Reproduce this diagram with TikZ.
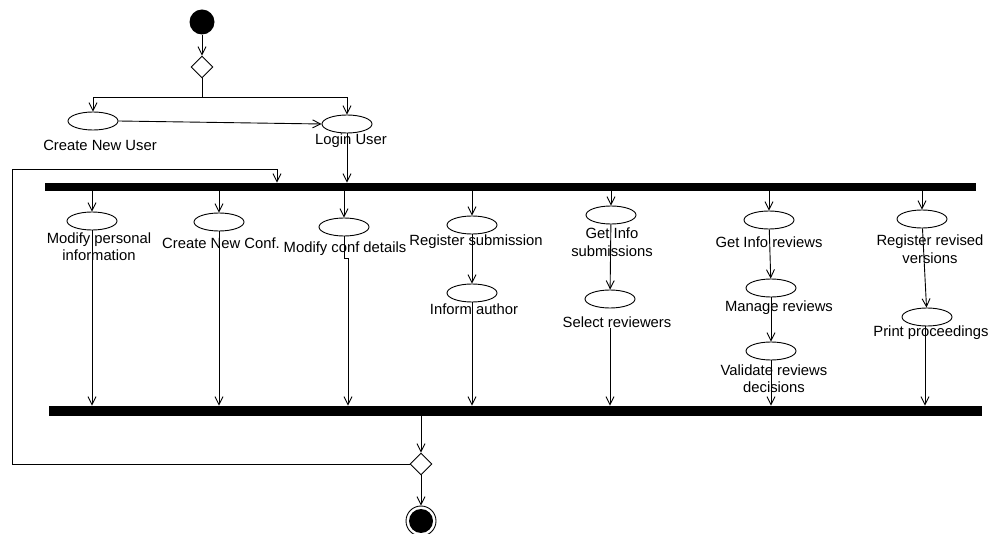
\documentclass[tikz,border=0pt]{standalone}
\usepackage{fontspec}
\setmainfont{Liberation Sans}
\usetikzlibrary{arrows.meta,shapes.geometric,positioning,calc}

\begin{document}
\begin{tikzpicture}
  [x=1pt,y=-1pt,line width=0.9pt,
   every node/.style={font=\fontsize{14.8}{17.5}\selectfont}]
  \tikzstyle{act}=[ellipse,draw,minimum width=50pt,minimum height=18pt,inner sep=0pt]
  \tikzstyle{bar}=[rectangle,fill=black,inner sep=0pt]
  \tikzstyle{dec}=[diamond,draw,minimum width=22pt,minimum height=22pt,inner sep=0pt]
  \tikzstyle{txt}=[inner sep=0pt,align=center]
  \tikzstyle{flow}=[-{Straight Barb[length=8pt,width=8pt]}]
  \useasboundingbox (0,0) rectangle (994,534);

  % start, choice and login
  \node[circle,fill=black,minimum size=25pt,inner sep=0pt] (init) at (202,22) {};
  \node[dec] (dec1) at (202,67) {};
  \coordinate (split) at (202,97);
  \node[act] (newuser) at (93,121) {};
  \node[act] (login) at (347,124) {};
  \node[txt] (newusertxt) at (100,145) {Create New User};
  \node[txt] (logintxt) at (351,141) {Login User};

  % fork and join bars
  \node[bar,minimum width=931pt,minimum height=8pt] (fork) at (510.5,187) {};
  \node[bar,minimum width=933pt,minimum height=10pt] (join) at (515.5,411) {};

  % activities
  \node[act] (mpi) at (92,221) {};
  \node[act] (nconf) at (219,222) {};
  \node[act] (mcd) at (344,227) {};
  \node[act] (reg) at (472,225) {};
  \node[act] (inform) at (472,293) {};
  \node[act] (getsub) at (611,215) {};
  \node[act] (sel) at (610,299) {};
  \node[act] (getrev) at (769,220) {};
  \node[act] (man) at (771,288) {};
  \node[act] (val) at (771,351) {};
  \node[act] (rev) at (922,219) {};
  \node[act] (print) at (927,317) {};

  \node[txt] (mpitxt) at (99,246.5) {Modify personal\\information};
  \node[txt] (nconftxt) at (221,243) {Create New Conf.};
  \node[txt] (mcdtxt) at (345,249) {Modify conf details};
  \node[txt] (regtxt) at (476,242) {Register submission};
  \node[txt] (informtxt) at (474,309) {Inform author};
  \node[txt] (getsubtxt) at (612,242) {Get Info\\submissions};
  \node[txt] (seltxt) at (617,322) {Select reviewers};
  \node[txt] (getrevtxt) at (769,242) {Get Info reviews};
  \node[txt] (mantxt) at (779,308) {Manage reviews};
  \node[txt] (valtxt) at (774,378.5) {Validate reviews\\decisions};
  \node[txt] (revtxt) at (930,249) {Register revised\\versions};
  \node[txt] (printtxt) at (931,333) {Print proceedings};

  % end
  \node[dec] (dec2) at (421,464) {};
  \node[circle,draw,minimum size=30pt,inner sep=0pt] (final) at (421,521) {};
  \node[circle,fill=black,minimum size=24pt,inner sep=0pt] (finaldot) at (final) {};
  \coordinate (loopB) at (12,169);
  \coordinate (loopC) at (277,169);

  \draw[flow] (init) -- (dec1);
  \draw (dec1.south) -- (split);
  \draw[flow] (split) -| (newuser.north);
  \draw[flow] (split) -| (login.north);
  \draw[flow] (newuser.east) -- (login.west);
  \draw[flow] (login.south) -- (login.south |- fork.north);

  \draw[flow] (fork.south -| mpi) -- (mpi.north);
  \draw[flow] (fork.south -| nconf) -- (nconf.north);
  \draw[flow] (fork.south -| mcd) -- (mcd.north);
  \draw[flow] (fork.south -| reg) -- (reg.north);
  \draw[flow] (fork.south -| getsub) -- (getsub.north);
  \draw[flow] (fork.south -| getrev) -- (getrev.north);
  \draw[flow] (fork.south -| rev) -- (rev.north);

  \draw[flow] (reg) -- (inform);
  \draw[flow] (getsub) -- (sel);
  \draw[flow] (getrev) -- (man);
  \draw[flow] (man) -- (val);
  \draw[flow] (rev) -- (print);

  \draw[flow] (mpi.south) -- (mpi.south |- join.north);
  \draw[flow] (nconf.south) -- (nconf.south |- join.north);
  \draw[flow] (mcd.south) |- ($(mcd.south)+(4,22)$) -- ($(join.north -| mcd.south)+(4,0)$);
  \draw[flow] (inform.south) -- (inform.south |- join.north);
  \draw[flow] (seltxt.south -| sel) -- (sel |- join.north);
  \draw[flow] (val.south) -- (val.south |- join.north);
  \draw[flow] ($(print.south)+(-2,0)$) -- ($(print.south |- join.north)+(-2,0)$);

  \draw[flow] (join.south -| dec2) -- (dec2.north);
  \draw[flow] (dec2.west) -| (loopB) -- (loopC) -- (loopC |- fork.north);
  \draw[flow] (dec2.south) -- (final.north);
\end{tikzpicture}
\end{document}
